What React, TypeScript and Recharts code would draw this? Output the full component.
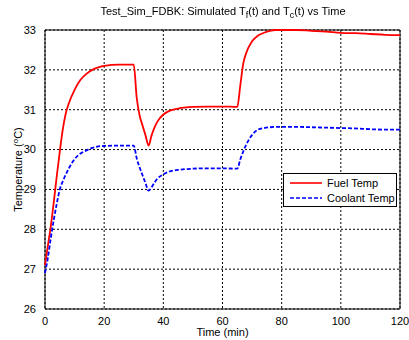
import {
  LineChart,
  Line,
  XAxis,
  YAxis,
  CartesianGrid,
  ReferenceArea,
} from "recharts";

const time = [0, 1, 2, 3, 4, 5, 6, 7, 8, 10, 12, 14, 16, 18, 20, 25, 30, 31, 32, 33, 34, 35, 36, 37, 38, 40, 42, 45, 50, 55, 60, 65, 66, 67, 68, 70, 72, 74, 76, 78, 80, 85, 90, 95, 100, 105, 110, 115, 120];
const fuelTemp = [27.1, 27.6, 28.1, 28.7, 29.35, 29.95, 30.5, 30.9, 31.15, 31.5, 31.75, 31.9, 32.0, 32.06, 32.1, 32.13, 32.13, 31.3, 30.85, 30.6, 30.35, 30.1, 30.35, 30.55, 30.7, 30.88, 30.97, 31.03, 31.07, 31.08, 31.08, 31.07, 31.6, 32.15, 32.42, 32.72, 32.86, 32.93, 32.98, 33.0, 33.0, 33.0, 32.98, 32.96, 32.93, 32.92, 32.9, 32.88, 32.87];
const coolantTemp = [26.9, 27.3, 27.8, 28.25, 28.65, 29.0, 29.2, 29.37, 29.52, 29.76, 29.9, 29.98, 30.04, 30.08, 30.09, 30.1, 30.1, 29.78, 29.55, 29.35, 29.15, 28.97, 29.05, 29.17, 29.27, 29.38, 29.45, 29.49, 29.52, 29.53, 29.53, 29.52, 29.75, 29.95, 30.12, 30.37, 30.5, 30.54, 30.56, 30.57, 30.57, 30.57, 30.56, 30.55, 30.54, 30.53, 30.51, 30.5, 30.5];
const xTicks = [0, 20, 40, 60, 80, 100, 120];
const yTicks = [26, 27, 28, 29, 30, 31, 32, 33];

const rows = time.map((t, i) => ({ t, fuel: fuelTemp[i], coolant: coolantTemp[i] }));

const font = "'Liberation Sans', Arial, sans-serif";

function LegendBox() {
  return (
    <div
      style={{
        position: "absolute",
        left: 283,
        top: 173,
        width: 112,
        height: 32,
        border: "1px solid #000",
        background: "#fff",
        zIndex: 3,
      }}
    >
      <svg width={112} height={32} style={{ display: "block" }}>
        <line x1={6} y1={9} x2={38} y2={9} stroke="#ff0000" strokeWidth={1.6} />
        <text x={43} y={13} fontSize={11} fontFamily={font}>Fuel Temp</text>
        <line x1={6} y1={24} x2={38} y2={24} stroke="#0000ff" strokeWidth={1.6} strokeDasharray="4 2" />
        <text x={43} y={28} fontSize={11} fontFamily={font}>Coolant Temp</text>
      </svg>
    </div>
  );
}

export default function App() {
  return (
    <div style={{ position: "fixed", left: 0, top: 0, width: 409, height: 340, background: "#fff" }}>
      <div
        style={{
          position: "absolute",
          left: 0,
          top: 5,
          width: 446,
          textAlign: "center",
          fontFamily: font,
          fontSize: 11,
          color: "#000",
          zIndex: 2,
        }}
      >
        Test_Sim_FDBK: Simulated T<sub style={{ fontSize: 9 }}>f</sub>(t) and T<sub style={{ fontSize: 9 }}>c</sub>(t) vs Time
      </div>
      <LineChart
        width={409}
        height={340}
        data={rows}
        margin={{ top: 30, right: 9, bottom: 0, left: 0 }}
      >
        <CartesianGrid stroke="#000" strokeDasharray="2 2" strokeWidth={1} />
        <XAxis
          dataKey="t"
          type="number"
          domain={[0, 120]}
          ticks={xTicks}
          height={31}
          tickLine={false}
          axisLine={false}
          tick={{ fill: "#000", fontSize: 11, fontFamily: font }}
          tickMargin={2}
          label={(props: any) => {
            const vb = props.viewBox;
            return (
              <text x={vb.x + vb.width / 2} y={vb.y + 27} textAnchor="middle" fontSize={11} fontFamily={font} fill="#000">
                Time (min)
              </text>
            );
          }}
        />
        <YAxis
          type="number"
          domain={[26, 33]}
          ticks={yTicks}
          width={45}
          tickLine={false}
          axisLine={false}
          tick={{ fill: "#000", fontSize: 11, fontFamily: font }}
          tickMargin={3}
          label={(props: any) => {
            const vb = props.viewBox;
            const cx = 22;
            const cy = vb.y + vb.height / 2;
            return (
              <text x={cx} y={cy} transform={`rotate(-90 ${cx} ${cy})`} textAnchor="middle" fontSize={11} fontFamily={font} fill="#000">
                Temperature (<tspan fontSize={8} dy={-4}>o</tspan><tspan dy={4}>C)</tspan>
              </text>
            );
          }}
        />
        <ReferenceArea x1={0} x2={120} y1={26} y2={33} fill="none" stroke="#000" strokeWidth={1} ifOverflow="visible" />
        <Line
          dataKey="fuel"
          stroke="#ff0000"
          strokeWidth={1.8}
          dot={false}
          type="monotone"
          isAnimationActive={false}
        />
        <Line
          dataKey="coolant"
          stroke="#0000ff"
          strokeWidth={1.8}
          strokeDasharray="4 2"
          dot={false}
          type="monotone"
          isAnimationActive={false}
        />
      </LineChart>
      <LegendBox />
    </div>
  );
}
